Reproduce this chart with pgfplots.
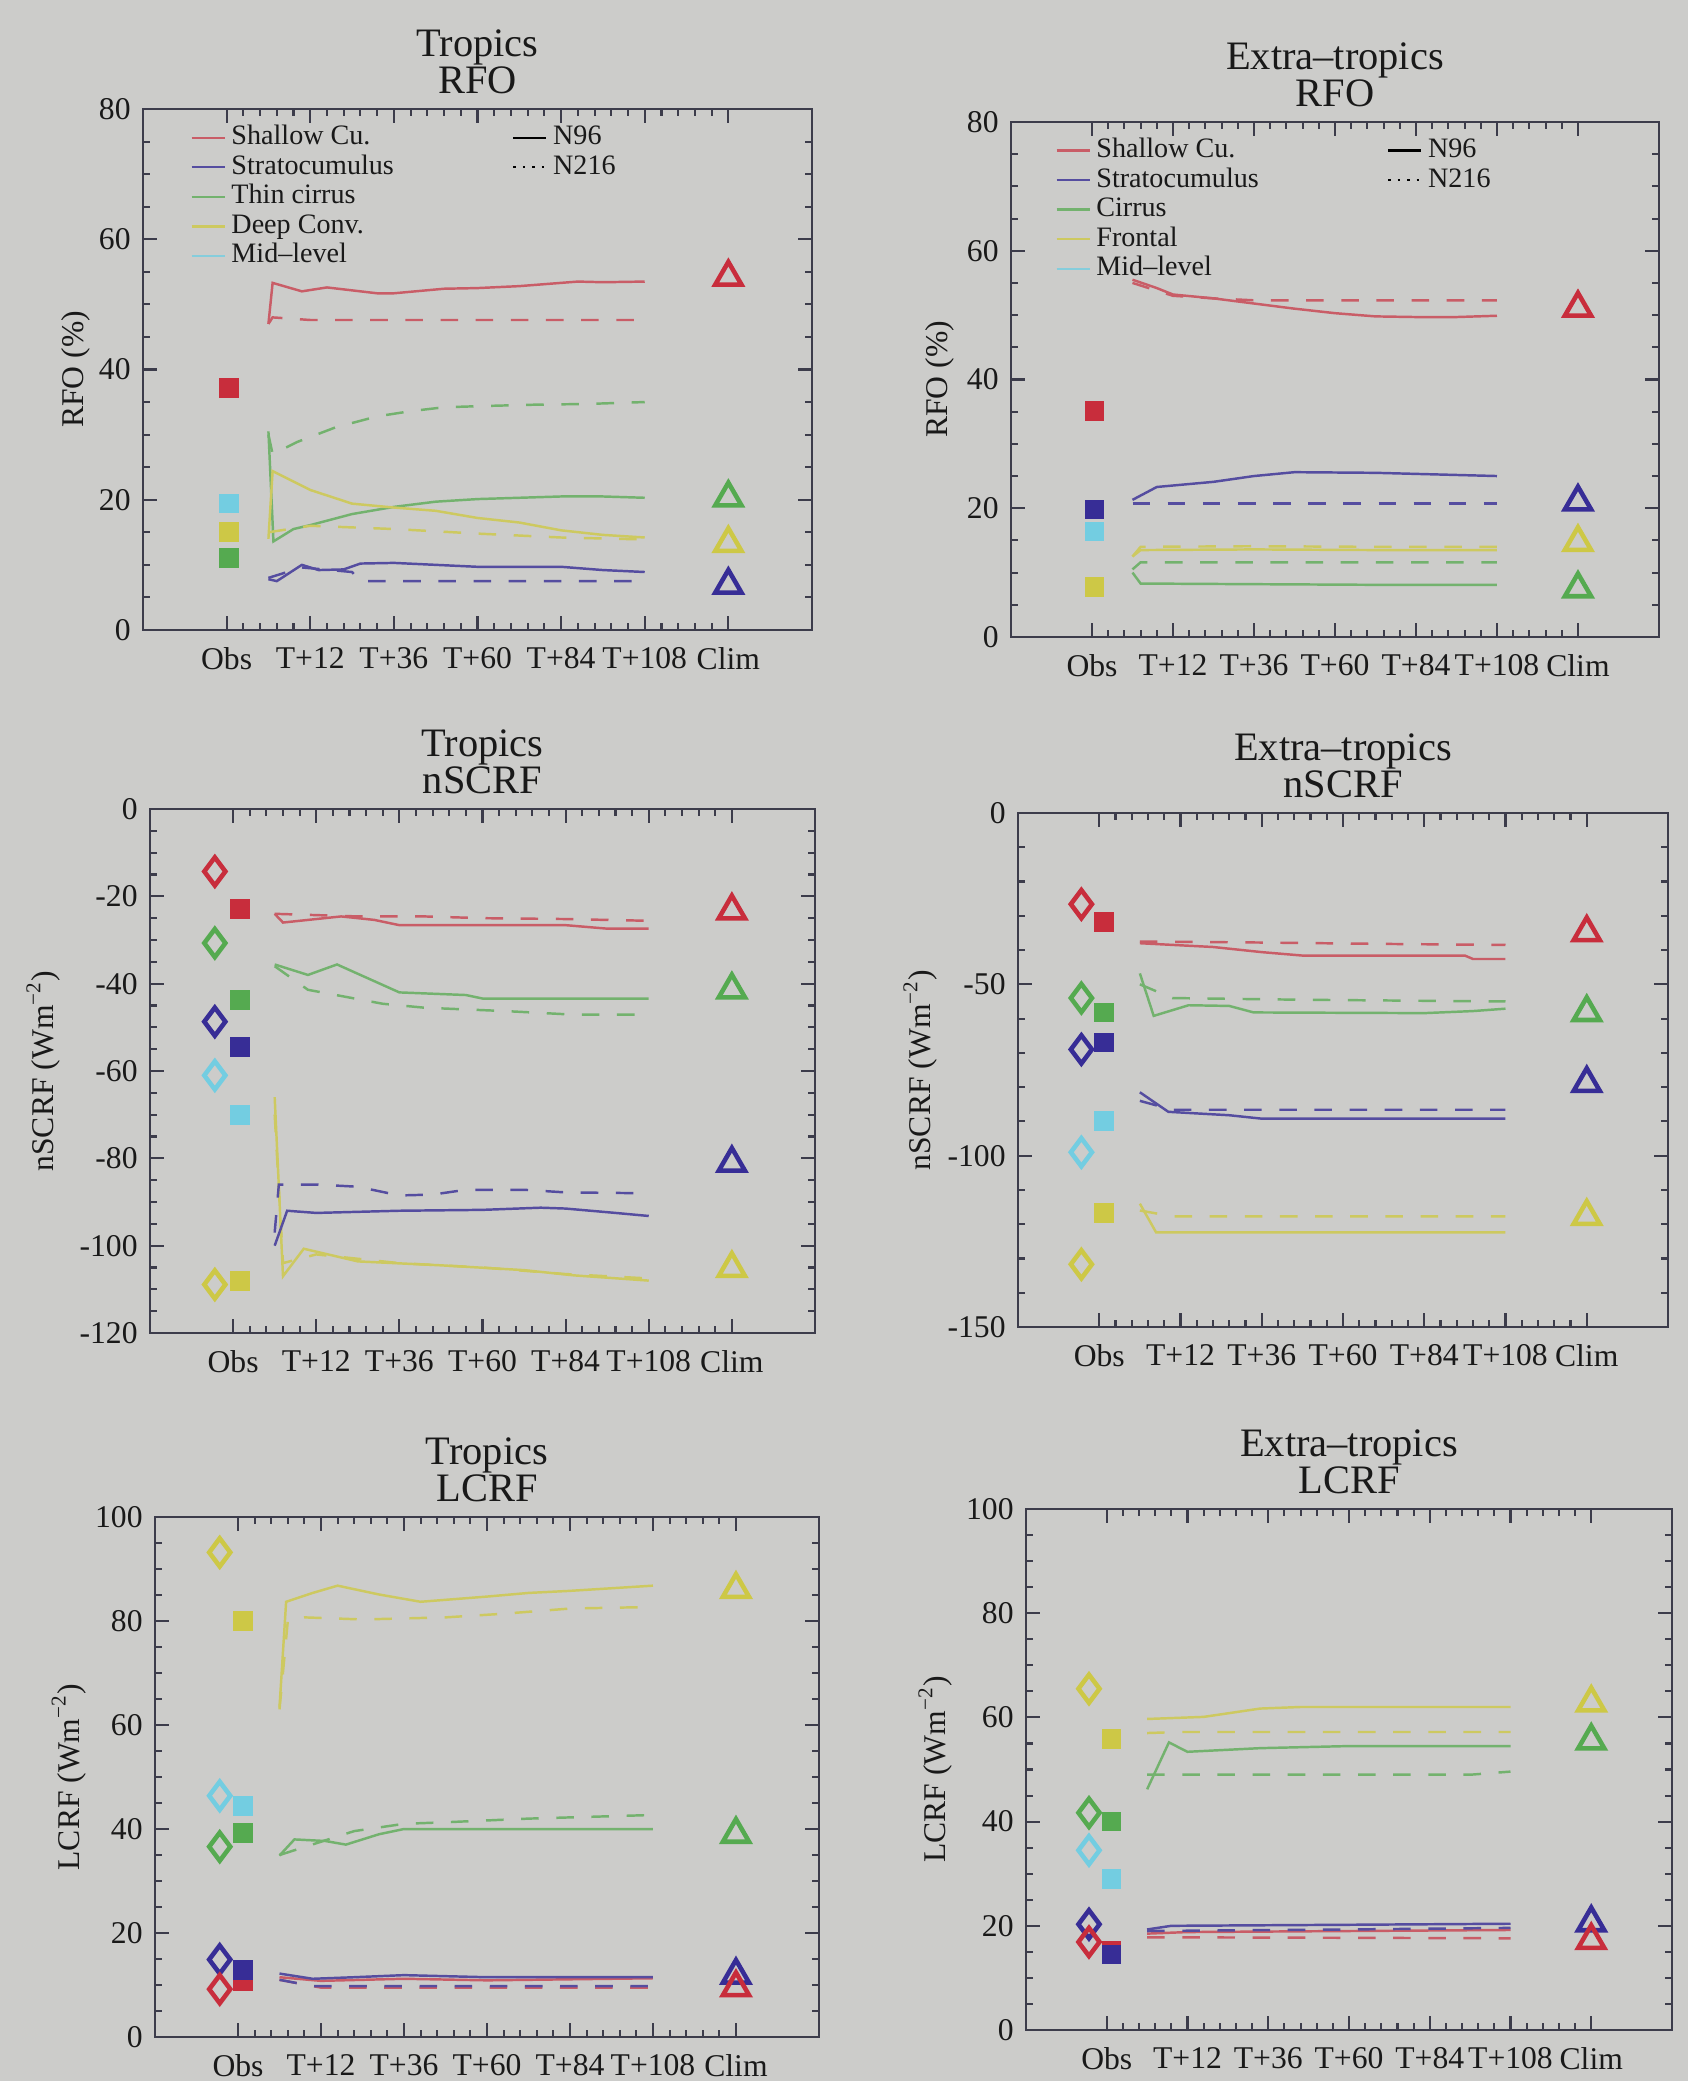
\documentclass[border=0pt]{standalone}
\usepackage{pgfplots}
\pgfplotsset{compat=1.18}
\usepackage{fontspec}
\setmainfont{Liberation Serif}
\definecolor{cR}{RGB}{200,45,60}
\definecolor{cB}{RGB}{55,45,150}
\definecolor{cG}{RGB}{85,170,80}
\definecolor{cY}{RGB}{205,200,70}
\definecolor{cC}{RGB}{115,205,225}
\definecolor{bg}{RGB}{204,204,202}
\definecolor{axcol}{RGB}{60,60,75}
\pgfplotsset{
 panel/.style={
  scale only axis, anchor=north west,
  xmin=-1, xmax=7, xtick={0,...,6},
  xticklabels={Obs,T+12,T+36,T+60,T+84,T+108,Clim},
  minor x tick num=4, minor y tick num=3,
  tick align=inside,
  major tick length=0.14cm, minor tick length=0.07cm,
  axis line style={axcol, line width=0.8pt},
  every tick/.style={axcol, line width=0.6pt},
  ticklabel style={font=\fontsize{9}{10}\selectfont, text=black!90},
  xticklabel style={yshift=-1.5pt},
  /pgf/number format/assume math mode=true,
  ylabel style={font=\fontsize{9}{10}\selectfont, anchor=center, text=black!90},
  title style={font=\fontsize{11.5}{10.5}\selectfont, align=center, text=black!90, yshift=-5.3pt},
  legend image code/.code={\draw[##1] (0cm,0cm) -- (0.33cm,0cm);},
  legend columns=2,
  legend cell align=left,
  legend style={draw=none, fill=none, anchor=north west,
    font=\fontsize{8}{8}\selectfont, text=black!90, column sep=1pt, row sep=0pt,
    nodes={inner sep=0.6pt, text height=5.6pt, text depth=1.6pt}},
 },
 n96/.style={line width=0.7pt, forget plot, mark=none},
 n216/.style={line width=0.7pt, dash pattern=on 5pt off 5pt, forget plot, mark=none},
 obsS/.style={only marks, mark=square*, mark size=2.6pt, forget plot},
 obsD/.style={only marks, mark=diamond, mark size=4pt, line width=1.3pt, forget plot},
 climT/.style={only marks, mark=triangle, mark size=4.3pt, line width=1.3pt, forget plot},
}
\colorlet{lR}{cR!70!bg}
\colorlet{lB}{cB!80!bg}
\colorlet{lG}{cG!75!bg}
\colorlet{lY}{cY!80!bg}
\colorlet{lC}{cC!80!bg}
\begin{document}
\begin{tikzpicture}
\path[use as bounding box, fill=bg] (0,0) rectangle (16.88cm,-20.81cm);

% ---------------- Top left: Tropics RFO
\begin{axis}[panel, at={(1.43cm,-1.09cm)}, width=6.69cm, height=5.21cm,
  ymin=0, ymax=80, ytick={0,20,...,80},
  title={Tropics\\RFO}, ylabel={RFO (\%)},
  ylabel style={at={(axis description cs:-0.10,0.5)}},
  legend style={at={(axis description cs:0.054,0.988)}}]
\addlegendimage{lR, line width=0.7pt}\addlegendentry{\makebox[2.75cm][l]{Shallow Cu.}}
\addlegendimage{black, line width=0.7pt}\addlegendentry{N96}
\addlegendimage{lB, line width=0.7pt}\addlegendentry{\makebox[2.75cm][l]{Stratocumulus}}
\addlegendimage{black, dotted, line width=0.7pt}\addlegendentry{N216}
\addlegendimage{lG, line width=0.7pt}\addlegendentry{\makebox[2.75cm][l]{Thin cirrus}}
\addlegendimage{empty legend}\addlegendentry{}
\addlegendimage{lY, line width=0.7pt}\addlegendentry{\makebox[2.75cm][l]{Deep Conv.}}
\addlegendimage{empty legend}\addlegendentry{}
\addlegendimage{lC, line width=0.7pt}\addlegendentry{\makebox[2.75cm][l]{Mid--level}}
\addlegendimage{empty legend}\addlegendentry{}
% lines
\addplot[n96, lR] coordinates {(0.5,47) (0.55,53.3) (0.9,52.0) (1.2,52.6) (1.8,51.7) (2.0,51.7) (2.6,52.4) (3.0,52.5) (3.5,52.8) (3.9,53.2) (4.2,53.5) (4.5,53.4) (5,53.5)};
\addplot[n216, lR] coordinates {(0.5,47) (0.55,48) (1,47.6) (2,47.6) (3,47.6) (4,47.6) (5,47.6)};
\addplot[n96, lG] coordinates {(0.5,30.5) (0.56,13.6) (0.8,15.5) (1.0,16.1) (1.5,17.8) (2.0,18.9) (2.5,19.7) (3.0,20.1) (3.5,20.3) (4.0,20.5) (4.5,20.5) (5,20.3)};
\addplot[n216, lG] coordinates {(0.5,30) (0.55,27) (0.85,28.9) (1.3,31.1) (1.8,32.8) (2.2,33.6) (2.6,34.2) (3.1,34.4) (3.7,34.6) (4.3,34.7) (5,35)};
\addplot[n96, lY] coordinates {(0.5,14) (0.55,24.4) (1.0,21.5) (1.5,19.4) (2.0,18.8) (2.5,18.3) (3.0,17.2) (3.5,16.5) (4.0,15.3) (4.5,14.6) (5,14.2)};
\addplot[n216, lY] coordinates {(0.5,15) (1,16) (2,15.5) (3,14.8) (4,14.2) (5,13.9)};
\addplot[n96, lB] coordinates {(0.5,7.8) (0.6,7.5) (0.9,10) (1.1,9.2) (1.4,9.3) (1.6,10.2) (2.0,10.3) (2.5,10.0) (3.0,9.7) (4.0,9.7) (4.5,9.2) (5,8.9)};
\addplot[n216, lB] coordinates {(0.5,8) (0.9,9.6) (1.5,8.9) (1.6,7.5) (2.5,7.5) (3.5,7.5) (5,7.5)};
% obs
\addplot[obsS, cR] coordinates {(0.03,37.2)};
\addplot[obsS, cC] coordinates {(0.03,19.4)};
\addplot[obsS, cY] coordinates {(0.03,15)};
\addplot[obsS, cG] coordinates {(0.03,11.1)};
% clim
\addplot[climT, cR] coordinates {(6,54.2)};
\addplot[climT, cG] coordinates {(6,20.3)};
\addplot[climT, cY] coordinates {(6,13.3)};
\addplot[climT, cB] coordinates {(6,6.9)};
\end{axis}

% ---------------- Top right: Extra-tropics RFO
\begin{axis}[panel, at={(10.11cm,-1.22cm)}, width=6.48cm, height=5.15cm,
  ymin=0, ymax=80, ytick={0,20,...,80},
  title={Extra–tropics\\RFO}, ylabel={RFO (\%)},
  ylabel style={at={(axis description cs:-0.11,0.5)}},
  legend style={at={(axis description cs:0.051,0.988)}}]
\addlegendimage{lR, line width=0.7pt}\addlegendentry{\makebox[2.85cm][l]{Shallow Cu.}}
\addlegendimage{black, line width=0.7pt}\addlegendentry{N96}
\addlegendimage{lB, line width=0.7pt}\addlegendentry{\makebox[2.85cm][l]{Stratocumulus}}
\addlegendimage{black, dotted, line width=0.7pt}\addlegendentry{N216}
\addlegendimage{lG, line width=0.7pt}\addlegendentry{\makebox[2.85cm][l]{Cirrus}}
\addlegendimage{empty legend}\addlegendentry{}
\addlegendimage{lY, line width=0.7pt}\addlegendentry{\makebox[2.85cm][l]{Frontal}}
\addlegendimage{empty legend}\addlegendentry{}
\addlegendimage{lC, line width=0.7pt}\addlegendentry{\makebox[2.85cm][l]{Mid--level}}
\addlegendimage{empty legend}\addlegendentry{}
\addplot[n96, lR] coordinates {(0.5,55.5) (0.8,54.2) (1.0,53.2) (1.5,52.6) (2.0,51.8) (2.5,51.0) (3.0,50.3) (3.5,49.8) (4.0,49.7) (4.5,49.7) (5,49.9)};
\addplot[n216, lR] coordinates {(0.5,55) (1,53) (1.5,52.6) (2,52.3) (3,52.3) (4,52.3) (5,52.3)};
\addplot[n96, lB] coordinates {(0.5,21.3) (0.8,23.3) (1.5,24.1) (2.0,25) (2.5,25.6) (3.5,25.5) (5,25.0)};
\addplot[n216, lB] coordinates {(0.5,20.7) (2,20.7) (3.5,20.7) (5,20.7)};
\addplot[n96, lY] coordinates {(0.5,12.5) (0.6,13.5) (2,13.6) (3.5,13.5) (5,13.5)};
\addplot[n216, lY] coordinates {(0.5,12.5) (0.6,14) (2,14.1) (3.5,14) (5,14)};
\addplot[n216, lG] coordinates {(0.5,10.5) (0.6,11.6) (2,11.6) (3.5,11.6) (5,11.6)};
\addplot[n96, lG] coordinates {(0.5,10) (0.6,8.3) (2,8.2) (3.5,8.1) (5,8.1)};
\addplot[obsS, cR] coordinates {(0.03,35.1)};
\addplot[obsS, cC] coordinates {(0.03,16.4)};
\addplot[obsS, cB] coordinates {(0.03,19.8)};
\addplot[obsS, cY] coordinates {(0.03,7.8)};
\addplot[climT, cR] coordinates {(6,51.1)};
\addplot[climT, cB] coordinates {(6,21)};
\addplot[climT, cY] coordinates {(6,14.7)};
\addplot[climT, cG] coordinates {(6,7.5)};
\end{axis}

% ---------------- Middle left: Tropics nSCRF
\begin{axis}[panel, at={(1.50cm,-8.09cm)}, width=6.65cm, height=5.24cm,
  ymin=-120, ymax=0, ytick={-120,-100,...,0},
  title={Tropics\\nSCRF}, ylabel={nSCRF (Wm\textsuperscript{−2})},
  ylabel style={at={(axis description cs:-0.16,0.5)}}]
\addplot[n96, lR] coordinates {(0.5,-24) (0.6,-26) (0.9,-25.4) (1.3,-24.6) (1.7,-25.4) (2.0,-26.6) (3,-26.6) (4,-26.6) (4.5,-27.4) (5,-27.4)};
\addplot[n216, lR] coordinates {(0.5,-24) (1.5,-24.6) (2.3,-24.6) (3.0,-25) (4.0,-25.2) (5,-25.6)};
\addplot[n96, lG] coordinates {(0.5,-35.6) (0.9,-38) (1.25,-35.6) (2.0,-42) (2.8,-42.6) (3.0,-43.4) (4,-43.4) (5,-43.4)};
\addplot[n216, lG] coordinates {(0.5,-36) (0.9,-41.4) (1.35,-43) (1.8,-44.6) (2.3,-45.5) (3.3,-46.3) (4.1,-47.1) (5,-47.1)};
\addplot[n96, lY] coordinates {(0.5,-66) (0.6,-107) (0.85,-100.7) (1.5,-103.6) (2.5,-104.5) (3.5,-105.6) (4.1,-106.8) (5,-108)};
\addplot[n216, lY] coordinates {(0.5,-70) (0.6,-104) (1,-102) (2,-104) (3,-105) (4,-106.5) (5,-107.5)};
\addplot[n96, lB] coordinates {(0.5,-100) (0.65,-92) (1.0,-92.5) (2,-92) (3,-91.8) (3.7,-91.3) (4.0,-91.5) (4.6,-92.5) (5,-93.2)};
\addplot[n216, lB] coordinates {(0.5,-97) (0.55,-86) (1.0,-86) (1.5,-86.5) (2.0,-88.5) (2.4,-88.3) (2.8,-87.2) (3.5,-87.2) (4.0,-87.8) (5,-88)};
\addplot[obsD, cR] coordinates {(-0.22,-14.3)};
\addplot[obsD, cG] coordinates {(-0.22,-30.7)};
\addplot[obsD, cB] coordinates {(-0.22,-48.7)};
\addplot[obsD, cC] coordinates {(-0.22,-61)};
\addplot[obsD, cY] coordinates {(-0.22,-108.9)};
\addplot[obsS, cR] coordinates {(0.08,-22.9)};
\addplot[obsS, cG] coordinates {(0.08,-43.8)};
\addplot[obsS, cB] coordinates {(0.08,-54.5)};
\addplot[obsS, cC] coordinates {(0.08,-70)};
\addplot[obsS, cY] coordinates {(0.08,-108.1)};
\addplot[climT, cR] coordinates {(6,-23.3)};
\addplot[climT, cG] coordinates {(6,-41.4)};
\addplot[climT, cB] coordinates {(6,-81.1)};
\addplot[climT, cY] coordinates {(6,-105.2)};
\end{axis}

% ---------------- Middle right: Extra-tropics nSCRF
\begin{axis}[panel, at={(10.18cm,-8.13cm)}, width=6.50cm, height=5.14cm,
  ymin=-150, ymax=0, ytick={-150,-100,-50,0}, minor y tick num=4,
  title={Extra–tropics\\nSCRF}, ylabel={nSCRF (Wm\textsuperscript{−2})},
  ylabel style={at={(axis description cs:-0.15,0.5)}}]
\addplot[n96, lR] coordinates {(0.5,-38) (1.4,-39.1) (2.0,-40.6) (2.5,-41.6) (4.5,-41.6) (4.6,-42.6) (5,-42.6)};
\addplot[n216, lR] coordinates {(0.5,-37.5) (2,-37.8) (3.5,-38.2) (5,-38.5)};
\addplot[n96, lG] coordinates {(0.5,-46.8) (0.67,-59.2) (1.1,-56.1) (1.6,-56.3) (1.9,-58.2) (4.0,-58.4) (4.6,-57.8) (5,-57.1)};
\addplot[n216, lG] coordinates {(0.5,-50) (0.9,-54) (2.5,-54.5) (5,-55)};
\addplot[n96, lB] coordinates {(0.5,-81.5) (0.85,-87.2) (1.6,-88.2) (2.0,-89.2) (3.5,-89.2) (5,-89.2)};
\addplot[n216, lB] coordinates {(0.5,-84) (0.9,-86.6) (3,-86.6) (5,-86.6)};
\addplot[n96, lY] coordinates {(0.5,-114) (0.7,-122.4) (3,-122.4) (5,-122.4)};
\addplot[n216, lY] coordinates {(0.5,-116) (0.9,-117.7) (3,-117.7) (5,-117.7)};
\addplot[obsD, cR] coordinates {(-0.22,-26.6)};
\addplot[obsD, cG] coordinates {(-0.22,-54)};
\addplot[obsD, cB] coordinates {(-0.22,-69)};
\addplot[obsD, cC] coordinates {(-0.22,-99)};
\addplot[obsD, cY] coordinates {(-0.22,-131.7)};
\addplot[obsS, cR] coordinates {(0.06,-31.8)};
\addplot[obsS, cG] coordinates {(0.06,-58.2)};
\addplot[obsS, cB] coordinates {(0.06,-67)};
\addplot[obsS, cC] coordinates {(0.06,-89.8)};
\addplot[obsS, cY] coordinates {(0.06,-116.7)};
\addplot[climT, cR] coordinates {(6,-34.9)};
\addplot[climT, cG] coordinates {(6,-58.2)};
\addplot[climT, cB] coordinates {(6,-78.9)};
\addplot[climT, cY] coordinates {(6,-117.7)};
\end{axis}

% ---------------- Bottom left: Tropics LCRF
\begin{axis}[panel, at={(1.55cm,-15.17cm)}, width=6.64cm, height=5.20cm,
  ymin=0, ymax=100, ytick={0,20,...,100},
  title={Tropics\\LCRF}, ylabel={LCRF (Wm\textsuperscript{−2})},
  ylabel style={at={(axis description cs:-0.13,0.5)}}]
\addplot[n96, lY] coordinates {(0.5,63.4) (0.58,83.7) (0.9,85.4) (1.2,86.8) (1.7,85.1) (2.2,83.7) (3.0,84.7) (3.5,85.4) (4.0,85.8) (5,86.8)};
\addplot[n216, lY] coordinates {(0.5,63) (0.6,80) (0.8,80.7) (1.5,80.3) (2.5,80.7) (3.2,81.4) (4.0,82.4) (5,82.7)};
\addplot[n96, lG] coordinates {(0.5,34.9) (0.68,38) (1.05,37.7) (1.3,37) (1.7,39) (2.0,40) (3.5,40) (5,40)};
\addplot[n216, lG] coordinates {(0.5,35) (1.4,39.6) (2.0,41) (2.5,41.3) (3.5,42) (5,42.7)};
\addplot[n216, lR] coordinates {(0.5,11) (1,9.5) (3,9.5) (5,9.5)};
\addplot[n216, lB] coordinates {(0.5,11) (0.9,9.8) (3,9.8) (5,9.8)};
\addplot[n96, lR] coordinates {(0.5,11.5) (1.0,10.8) (2,11.2) (3,10.9) (5,11.3)};
\addplot[n96, lB] coordinates {(0.5,12.2) (0.9,11.2) (1.4,11.5) (2.0,11.9) (3.0,11.5) (5,11.5)};
\addplot[obsD, cY] coordinates {(-0.22,93.2)};
\addplot[obsD, cC] coordinates {(-0.22,46.4)};
\addplot[obsD, cG] coordinates {(-0.22,36.6)};
\addplot[obsD, cB] coordinates {(-0.22,14.9)};
\addplot[obsD, cR] coordinates {(-0.22,9.2)};
\addplot[obsS, cY] coordinates {(0.06,80)};
\addplot[obsS, cC] coordinates {(0.06,44.4)};
\addplot[obsS, cG] coordinates {(0.06,39.3)};
\addplot[obsS, cR] coordinates {(0.06,10.8)};
\addplot[obsS, cB] coordinates {(0.06,12.9)};
\addplot[climT, cY] coordinates {(6,86.1)};
\addplot[climT, cG] coordinates {(6,39)};
\addplot[climT, cB] coordinates {(6,11.9)};
\addplot[climT, cR] coordinates {(6,9.5)};
\end{axis}

% ---------------- Bottom right: Extra-tropics LCRF
\begin{axis}[panel, at={(10.26cm,-15.09cm)}, width=6.46cm, height=5.21cm,
  ymin=0, ymax=100, ytick={0,20,...,100},
  title={Extra–tropics\\LCRF}, ylabel={LCRF (Wm\textsuperscript{−2})},
  ylabel style={at={(axis description cs:-0.14,0.5)}}]
\addplot[n96, lY] coordinates {(0.5,59.7) (1.2,60.1) (1.9,61.7) (2.4,62) (3.5,62) (5,62)};
\addplot[n216, lY] coordinates {(0.5,57) (0.9,57.2) (3,57.2) (5,57.2)};
\addplot[n96, lG] coordinates {(0.5,46.2) (0.77,55.2) (1.0,53.4) (1.9,54.1) (3.0,54.5) (5,54.5)};
\addplot[n216, lG] coordinates {(0.5,49) (0.9,49) (3,49) (4.5,49) (5,49.6)};
\addplot[n216, lR] coordinates {(0.5,17.8) (3,17.7) (5,17.6)};
\addplot[n96, lR] coordinates {(0.5,18.5) (1,18.8) (3,19) (5,19.2)};
\addplot[n216, lB] coordinates {(0.5,19) (3,19.3) (5,19.6)};
\addplot[n96, lB] coordinates {(0.5,19.3) (0.8,20) (3,20.2) (5,20.4)};
\addplot[obsD, cY] coordinates {(-0.22,65.5)};
\addplot[obsD, cG] coordinates {(-0.22,41.7)};
\addplot[obsD, cC] coordinates {(-0.22,34.5)};
\addplot[obsD, cB] coordinates {(-0.22,20.3)};
\addplot[obsD, cR] coordinates {(-0.22,16.9)};
\addplot[obsS, cY] coordinates {(0.06,55.9)};
\addplot[obsS, cG] coordinates {(0.06,40)};
\addplot[obsS, cC] coordinates {(0.06,29)};
\addplot[obsS, cR] coordinates {(0.06,15.2)};
\addplot[obsS, cB] coordinates {(0.06,14.5)};
\addplot[climT, cY] coordinates {(6,62.8)};
\addplot[climT, cG] coordinates {(6,55.5)};
\addplot[climT, cB] coordinates {(6,20.6)};
\addplot[climT, cR] coordinates {(6,17.2)};
\end{axis}
\end{tikzpicture}
\end{document}
